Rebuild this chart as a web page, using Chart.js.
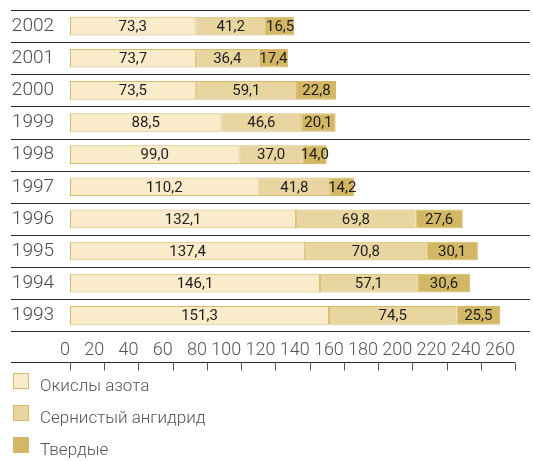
<!DOCTYPE html>
<html>
<head>
<meta charset="utf-8">
<script src="https://cdn.jsdelivr.net/npm/chart.js@4"></script>
<style>
  html, body { margin: 0; padding: 0; background: #fff; }
  #wrap { width: 533px; height: 461px; }
</style>
</head>
<body>
<div id="wrap"><canvas id="emissions"></canvas></div>
<script>
var years = ['2002', '2001', '2000', '1999', '1998', '1997', '1996', '1995', '1994', '1993'];
var nitrogenOxides = [73.3, 73.7, 73.5, 88.5, 99.0, 110.2, 132.1, 137.4, 146.1, 151.3];
var sulfurDioxide = [41.2, 36.4, 59.1, 46.6, 37.0, 41.8, 69.8, 70.8, 57.1, 74.5];
var solids = [16.5, 17.4, 22.8, 20.1, 14.0, 14.2, 27.6, 30.1, 30.6, 25.5];
var seriesNames = ['Окислы азота', 'Сернистый ангидрид', 'Твердые'];
var xTicks = [0, 20, 40, 60, 80, 100, 120, 140, 160, 180, 200, 220, 240, 260];

var fontFamily = 'Roboto, "Liberation Sans", sans-serif';

// separator lines, bottom axis with ticks below it, segment values, legend
var decor = {
    id: 'decor',
    beforeDatasetsDraw: function (chart) {
        var ctx = chart.ctx, y = chart.scales.y;
        var n = chart.data.labels.length;
        var step = y.getPixelForValue(1) - y.getPixelForValue(0);
        ctx.save();
        ctx.strokeStyle = '#2a2a2a';
        ctx.lineWidth = 1.2;
        for (var i = 0; i <= n; i++) {
            var py = Math.round(y.getPixelForValue(0) - step / 2 + i * step) + 0.5;
            ctx.beginPath();
            ctx.moveTo(11, py);
            ctx.lineTo(530, py);
            ctx.stroke();
        }
        ctx.restore();
    },
    afterDraw: function (chart) {
        var ctx = chart.ctx, x = chart.scales.x, y = chart.scales.y;
        ctx.save();

        // values inside segments
        ctx.font = '15px ' + fontFamily;
        ctx.fillStyle = '#1e1e1e';
        ctx.textAlign = 'center';
        ctx.textBaseline = 'middle';
        chart.data.datasets.forEach(function (ds, di) {
            chart.getDatasetMeta(di).data.forEach(function (bar, i) {
                var cx = (bar.x + bar.base) / 2;
                ctx.fillText(ds.data[i].toFixed(1).replace('.', ','), cx, bar.y + 1);
            });
        });

        // bottom axis line with ticks pointing down
        var ay = Math.round(y.bottom + 31) + 0.5;
        ctx.strokeStyle = '#2a2a2a';
        ctx.lineWidth = 1.2;
        ctx.beginPath();
        ctx.moveTo(11, ay);
        ctx.lineTo(x.getPixelForValue(260), ay);
        ctx.stroke();
        ctx.strokeStyle = '#555';
        ctx.lineWidth = 1;
        xTicks.forEach(function (v) {
            var px = Math.round(x.getPixelForValue(v)) + 0.5;
            ctx.beginPath();
            ctx.moveTo(px, ay);
            ctx.lineTo(px, ay + 8);
            ctx.stroke();
        });

        // legend, one item per line
        ctx.font = '300 17px ' + fontFamily;
        ctx.textAlign = 'left';
        ctx.textBaseline = 'alphabetic';
        chart.data.datasets.forEach(function (ds, di) {
            var top = 373 + di * 32;
            ctx.fillStyle = ds.backgroundColor;
            ctx.fillRect(13, top, 16, 16);
            ctx.strokeStyle = ds.borderColor;
            ctx.strokeRect(13.5, top + 0.5, 15, 15);
            ctx.fillStyle = '#555';
            ctx.fillText(ds.label, 40, top + 18);
        });
        ctx.restore();
    }
};

var ctx = document.getElementById('emissions').getContext('2d');
var chart = new Chart(ctx, {
    type: 'bar',
    data: {
        labels: years,
        datasets: [{
            label: seriesNames[0],
            data: nitrogenOxides,
            backgroundColor: '#faebca',
            borderColor: '#d6ba68'
        }, {
            label: seriesNames[1],
            data: sulfurDioxide,
            backgroundColor: '#e8d5a0',
            borderColor: '#d6ba68'
        }, {
            label: seriesNames[2],
            data: solids,
            backgroundColor: '#d3b765',
            borderColor: '#d6ba68'
        }]
    },
    options: {
        indexAxis: 'y',
        responsive: true,
        maintainAspectRatio: false,
        animation: false,
        layout: { padding: { left: 11, right: 18, top: 10, bottom: 92 } },
        datasets: {
            bar: {
                borderWidth: 1,
                borderSkipped: false,
                categoryPercentage: 1,
                barPercentage: 0.58
            }
        },
        plugins: {
            legend: { display: false },
            tooltip: { enabled: false }
        },
        scales: {
            x: {
                stacked: true,
                min: 0,
                max: 260,
                afterBuildTicks: function (axis) {
                    axis.ticks = xTicks.map(function (v) { return { value: v }; });
                },
                grid: { display: false, drawTicks: false },
                border: { display: false },
                ticks: {
                    align: 'end',
                    autoSkip: false,
                    maxRotation: 0,
                    minRotation: 0,
                    padding: 8,
                    color: '#555',
                    font: { family: fontFamily, size: 18, weight: 300 }
                }
            },
            y: {
                stacked: true,
                grid: { display: false, drawTicks: false },
                border: { display: false },
                afterFit: function (scale) {
                    scale.width = 59;
                    scale.paddingTop = 0;
                    scale.paddingBottom = 0;
                },
                ticks: {
                    padding: 16,
                    color: '#4a4a4a',
                    font: { family: fontFamily, size: 19, weight: 300 }
                }
            }
        }
    },
    plugins: [decor]
});
</script>
</body>
</html>
